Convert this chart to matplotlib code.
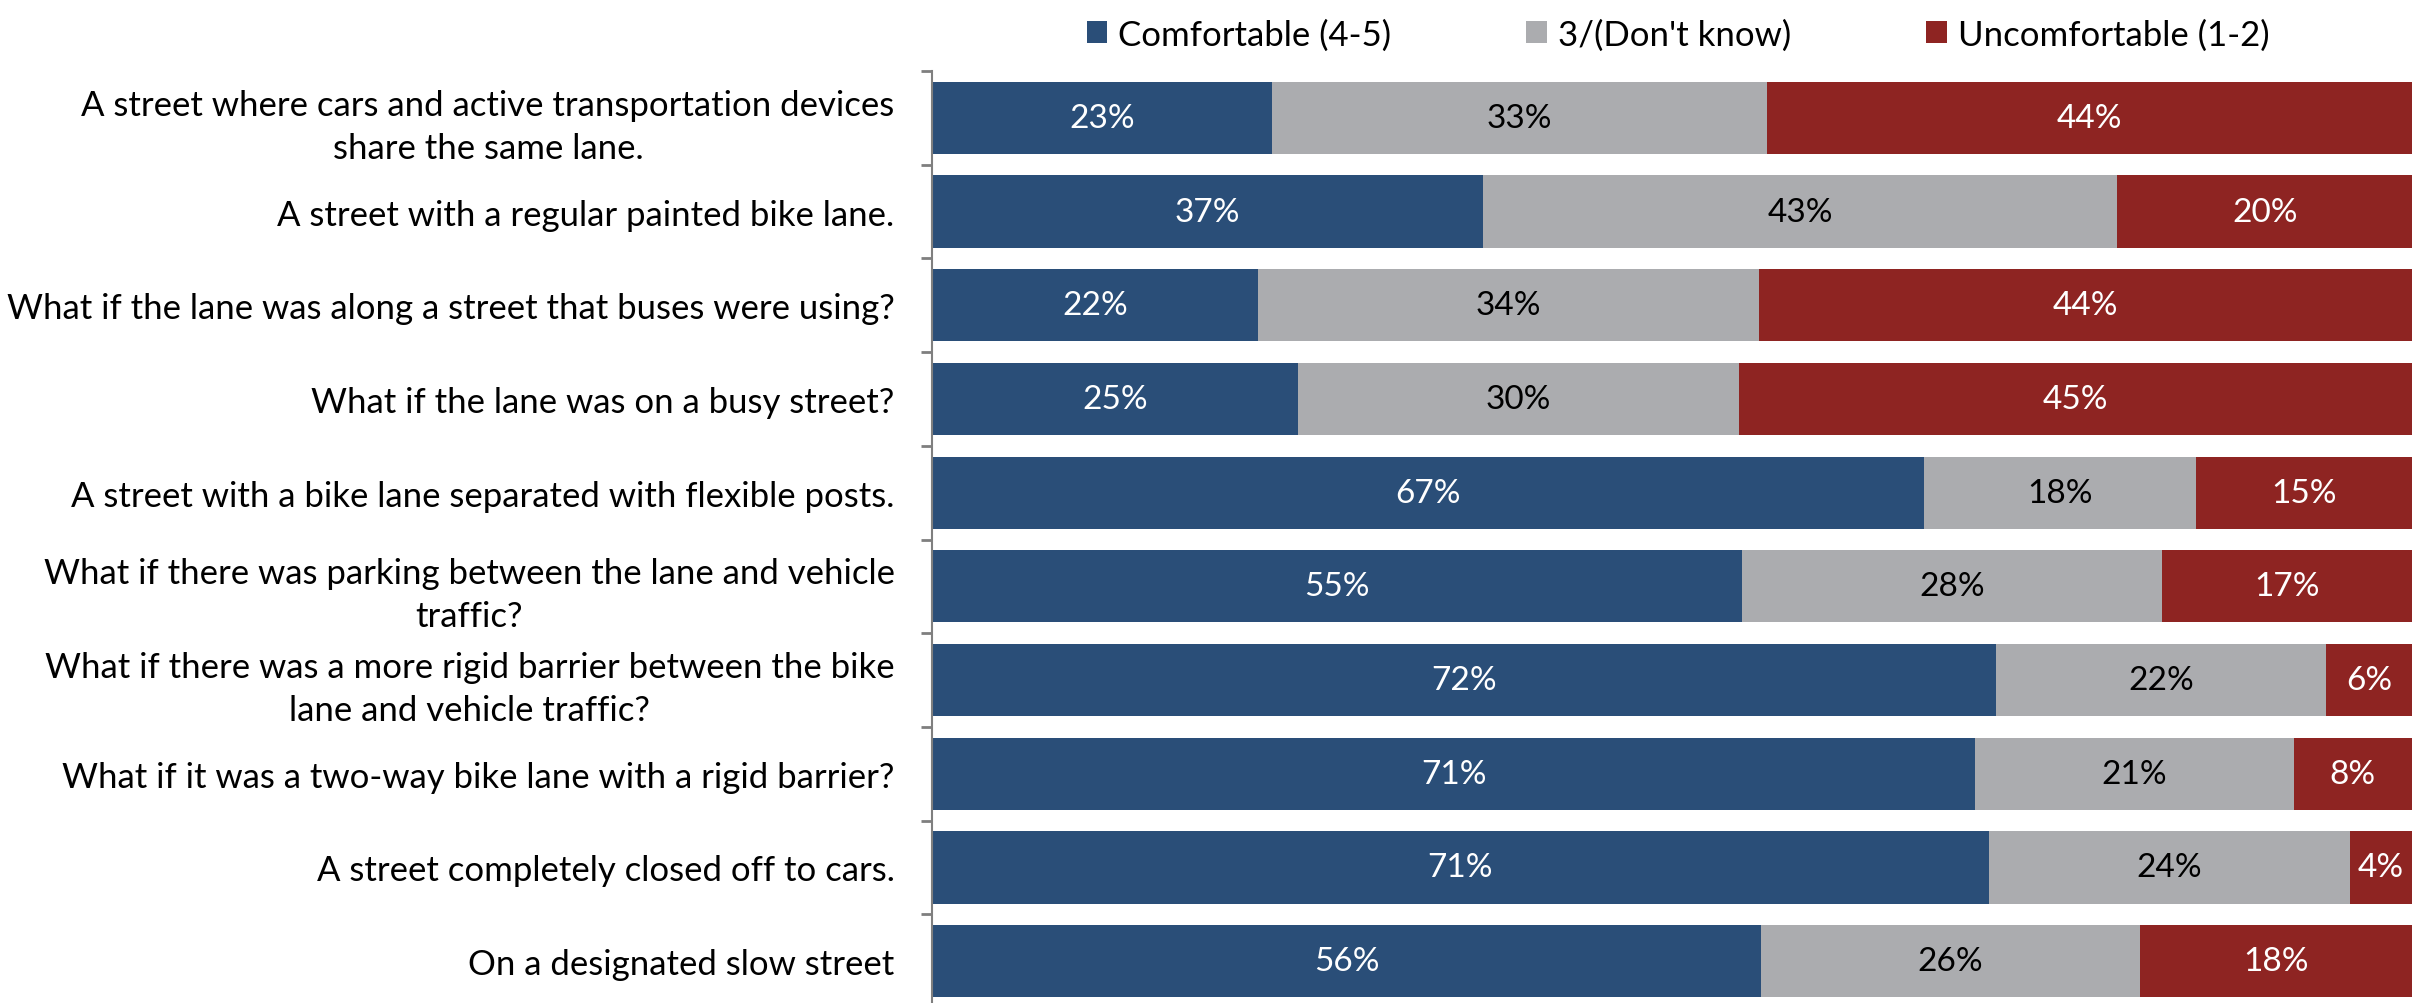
import matplotlib.pyplot as plt
from matplotlib.patches import Patch

plt.rcParams['font.family'] = ['Lato', 'DejaVu Sans']

# survey items, top to bottom
questions = [
    "A street where cars and active transportation devices\nshare the same lane.",
    "A street with a regular painted bike lane.",
    "What if the lane was along a street that buses were using?",
    "What if the lane was on a busy street?",
    "A street with a bike lane separated with flexible posts.",
    "What if there was parking between the lane and vehicle\ntraffic?",
    "What if there was a more rigid barrier between the bike\nlane and vehicle traffic?",
    "What if it was a two-way bike lane with a rigid barrier?",
    "A street completely closed off to cars.",
    "On a designated slow street",
]
comfortable = [23.0, 37.2, 22.0, 24.7, 67.0, 54.7, 71.9, 70.5, 71.4, 56.0]
neutral = [33.4, 42.9, 33.9, 29.8, 18.4, 28.4, 22.3, 21.5, 24.4, 25.6]
uncomfortable = [43.6, 19.9, 44.1, 45.5, 14.6, 16.9, 5.8, 8.0, 4.2, 18.4]
shown = [
    (23, 33, 44), (37, 43, 20), (22, 34, 44), (25, 30, 45), (67, 18, 15),
    (55, 28, 17), (72, 22, 6), (71, 21, 8), (71, 24, 4), (56, 26, 18),
]
series_names = ["Comfortable (4-5)", "3/(Don't know)", "Uncomfortable (1-2)"]
colors = ["#2A4E78", "#ABACAF", "#8E2422"]
text_colors = ["white", "black", "white"]

W, H = 2423, 1004
fig = plt.figure(figsize=(W / 100, H / 100), dpi=100)
ax = fig.add_axes([932 / W, -5 / H, 1480 / W, 937 / H])

y = list(range(len(questions)))
left = [0.0] * len(questions)
for k, vals in enumerate([comfortable, neutral, uncomfortable]):
    bars = ax.barh(y, vals, left=left, height=0.77, color=colors[k], edgecolor='none')
    for i, b in enumerate(bars):
        cx = b.get_x() + b.get_width() / 2
        ax.text(cx, i, f"{shown[i][k]}%", ha='center', va='center',
                color=text_colors[k], fontsize=24)
    left = [l + v for l, v in zip(left, vals)]

ax.set_xlim(0, 100)
ax.set_ylim(len(questions) - 0.5, -0.5)
ax.set_yticks(y)
ax.set_yticklabels(questions, fontsize=25, linespacing=1.42)
for t in ax.get_yticklabels():
    t.set_multialignment('center')
ax.tick_params(axis='y', length=0, pad=27)
ax.set_yticks([i + 0.5 for i in range(-1, len(questions))], minor=True)
ax.tick_params(axis='y', which='minor', length=8, width=2, color='#7F7F7F')
ax.set_xticks([])
for s in ['top', 'right', 'bottom']:
    ax.spines[s].set_visible(False)
ax.spines['left'].set_color('#7F7F7F')
ax.spines['left'].set_linewidth(1.5)

handles = [Patch(facecolor=c, edgecolor='none') for c in colors]
fig.legend(handles, series_names, loc='upper center', bbox_to_anchor=(0.6925, 1.012),
           ncol=3, frameon=False, fontsize=25, handlelength=0.6, handleheight=0.6,
           handletextpad=0.3, columnspacing=3.9)

fig.savefig('out.png', dpi=100)
